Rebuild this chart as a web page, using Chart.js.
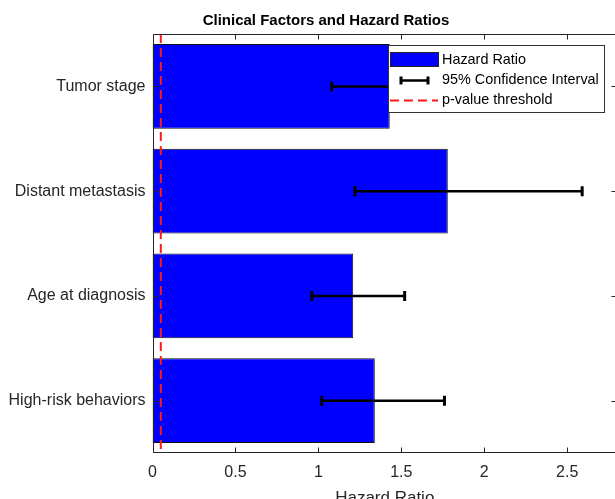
<!DOCTYPE html>
<html>
<head>
<meta charset="utf-8">
<script src="https://cdn.jsdelivr.net/npm/chart.js@4"></script>
<style>
  html, body { margin: 0; padding: 0; background: #fff; overflow: hidden; }
  #wrap { width: 620px; height: 499px; }
</style>
</head>
<body>
<div id="wrap"><canvas id="chart" width="620" height="499"></canvas></div>
<script>
const FACTORS = ["Tumor stage", "Distant metastasis", "Age at diagnosis", "High-risk behaviors"];
const HAZARD = [1.43, 1.78, 1.21, 1.34];
const CI_LOW = [1.08, 1.22, 0.96, 1.02];
const CI_HIGH = [1.82, 2.59, 1.52, 1.76];
const P_THRESHOLD = 0.05;
const X_TICKS = [0, 0.5, 1, 1.5, 2, 2.5];
const X_MAX = 2.8;

const FONT = "'Liberation Sans', Arial, Helvetica, sans-serif";
const INK = "#262626";

// error bars, threshold line, axis box, legend and title
const overlay = {
  id: "overlay",
  afterDatasetsDraw(c) {
    const ctx = c.ctx;
    const xs = c.scales.x, ys = c.scales.y;
    const a = c.chartArea;

    ctx.save();
    // confidence intervals
    ctx.strokeStyle = "#000";
    FACTORS.forEach((f, i) => {
      const y = ys.getPixelForValue(i);
      const x1 = xs.getPixelForValue(CI_LOW[i]);
      const x2 = xs.getPixelForValue(CI_HIGH[i]);
      ctx.lineWidth = 2.5;
      ctx.beginPath(); ctx.moveTo(x1, y); ctx.lineTo(x2, y); ctx.stroke();
      ctx.lineWidth = 3;
      ctx.beginPath();
      ctx.moveTo(x1, y - 5); ctx.lineTo(x1, y + 5);
      ctx.moveTo(x2, y - 5); ctx.lineTo(x2, y + 5);
      ctx.stroke();
    });

    // p-value threshold
    const px = xs.getPixelForValue(P_THRESHOLD);
    ctx.strokeStyle = "#ff1a1a";
    ctx.lineWidth = 2;
    ctx.setLineDash([9, 5]);
    ctx.beginPath(); ctx.moveTo(px, a.top); ctx.lineTo(px, a.bottom); ctx.stroke();
    ctx.setLineDash([]);

    // axis box + inward ticks
    ctx.strokeStyle = INK;
    ctx.lineWidth = 1;
    const L = Math.round(a.left) + 0.5, R = Math.round(a.right) - 0.5;
    const T = Math.round(a.top) + 0.5, B = Math.round(a.bottom) - 0.5;
    ctx.beginPath();
    ctx.moveTo(L, T); ctx.lineTo(R, T); ctx.lineTo(R, B); ctx.lineTo(L, B); ctx.closePath();
    X_TICKS.forEach(v => {
      const x = Math.round(xs.getPixelForValue(v)) + 0.5;
      ctx.moveTo(x, B); ctx.lineTo(x, B - 5);
      ctx.moveTo(x, T); ctx.lineTo(x, T + 5);
    });
    FACTORS.forEach((f, i) => {
      const y = Math.round(ys.getPixelForValue(i)) + 0.5;
      ctx.moveTo(L, y); ctx.lineTo(L + 5, y);
      ctx.moveTo(R, y); ctx.lineTo(R - 5, y);
    });
    ctx.stroke();

    // legend
    const lx = 388.5, ly = 45.5, lw = 216, lh = 67;
    ctx.fillStyle = "#fff";
    ctx.fillRect(lx, ly, lw, lh);
    ctx.strokeStyle = "#333";
    ctx.strokeRect(lx, ly, lw, lh);
    ctx.font = "14.4px " + FONT;
    ctx.textBaseline = "middle";
    ctx.textAlign = "left";
    const rows = [60, 80.5, 100.5];
    ctx.fillStyle = "#0000ff";
    ctx.fillRect(390.5, 52.5, 48, 14);
    ctx.strokeStyle = "#222";
    ctx.strokeRect(390.5, 52.5, 48, 14);
    ctx.strokeStyle = "#000";
    ctx.lineWidth = 2.5;
    ctx.beginPath(); ctx.moveTo(401, rows[1]); ctx.lineTo(428, rows[1]); ctx.stroke();
    ctx.lineWidth = 3;
    ctx.beginPath();
    ctx.moveTo(401, rows[1] - 4); ctx.lineTo(401, rows[1] + 4);
    ctx.moveTo(428, rows[1] - 4); ctx.lineTo(428, rows[1] + 4);
    ctx.stroke();
    ctx.strokeStyle = "#ff1a1a";
    ctx.lineWidth = 2;
    ctx.setLineDash([9, 5]);
    ctx.beginPath(); ctx.moveTo(390, rows[2]); ctx.lineTo(438, rows[2]); ctx.stroke();
    ctx.setLineDash([]);
    ctx.fillStyle = "#000";
    ctx.fillText("Hazard Ratio", 442, rows[0]);
    ctx.fillText("95% Confidence Interval", 442, rows[1]);
    ctx.fillText("p-value threshold", 442, rows[2]);

    // title
    ctx.font = "bold 15px " + FONT;
    ctx.textAlign = "center";
    ctx.fillStyle = "#000";
    ctx.fillText("Clinical Factors and Hazard Ratios", 326, 20.5);
    ctx.restore();
  }
};

new Chart(document.getElementById("chart"), {
  type: "bar",
  data: {
    labels: FACTORS,
    datasets: [{
      label: "Hazard Ratio",
      data: HAZARD,
      backgroundColor: "#0000ff",
      borderColor: "#111",
      borderWidth: 1,
      borderSkipped: false,
      barPercentage: 0.81,
      categoryPercentage: 1
    }]
  },
  options: {
    indexAxis: "y",
    responsive: false,
    animation: false,
    layout: { padding: { top: 34, right: 3, left: 0, bottom: 0 } },
    plugins: { legend: { display: false }, title: { display: false }, tooltip: { enabled: false } },
    scales: {
      x: {
        type: "linear",
        min: 0,
        max: X_MAX,
        afterBuildTicks: s => { s.ticks = X_TICKS.map(v => ({ value: v })); },
        afterFit: s => { s.height = 46; },
        grid: { display: false, drawTicks: false },
        border: { display: false },
        ticks: { padding: 10, color: INK, font: { family: FONT, size: 16 }, maxRotation: 0, callback: v => String(v) },
        title: { display: true, text: "Hazard Ratio", color: INK, font: { family: FONT, size: 17 }, padding: { top: 8, bottom: -10 } }
      },
      y: {
        type: "category",
        afterFit: s => { s.width = 152.5; },
        grid: { display: false, drawTicks: false },
        border: { display: false },
        ticks: { padding: 7, color: INK, font: { family: FONT, size: 16 } }
      }
    }
  },
  plugins: [overlay]
});
</script>
</body>
</html>
